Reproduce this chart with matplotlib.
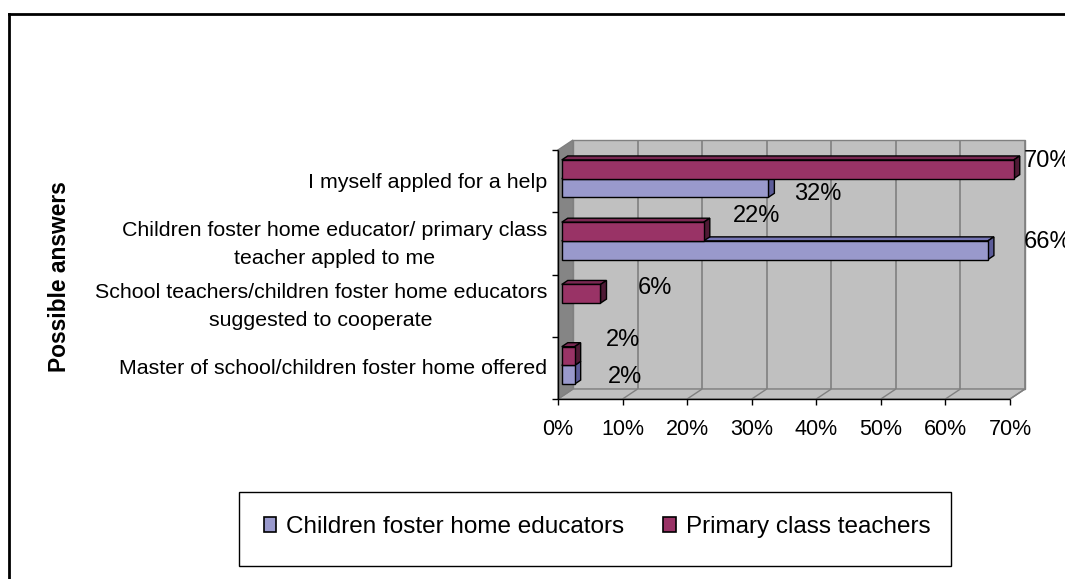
import matplotlib
matplotlib.use("Agg")
import matplotlib.pyplot as plt
from matplotlib.patches import Polygon, Rectangle, Patch
from matplotlib.lines import Line2D

plt.rcParams['font.family'] = ['Liberation Sans', 'DejaVu Sans']

# ---- data -------------------------------------------------------------
categories = [
    "I myself appled for a help",
    "Children foster home educator/ primary class\nteacher appled to me",
    "School teachers/children foster home educators\nsuggested to cooperate",
    "Master of school/children foster home offered",
]
educators = [32, 66, 0, 2]      # Children foster home educators, %
teachers = [70, 22, 6, 2]       # Primary class teachers, %
series_names = ["Children foster home educators", "Primary class teachers"]
x_ticks = [0, 10, 20, 30, 40, 50, 60, 70]
x_tick_labels = [f"{t}%" for t in x_ticks]
axis_title = "Possible answers"

# label nudges (pixels from the bar end) as placed in the original layout
teacher_label_offsets = [(10, 8), (29, 16), (37, 6), (31, 16)]
educator_label_offsets = [(26, -6), (36, 8), (0, 0), (33, -2)]

# ---- style ------------------------------------------------------------
W, H, DPI = 1065, 579, 100
FS_CAT = 15.4
FS_TICK = 15.5
FS_VAL = 17
FS_LEG = 17.5
FS_TITLE = 16.4
WALL = "#C0C0C0"
WALL_DARK = "#858585"
GRID = "#808080"
BLUE = ("#9999CC", "#7575B5", "#5C5C99")      # front, top, side
MAROON = ("#993366", "#7A2852", "#4F1A35")

fig = plt.figure(figsize=(W / DPI, H / DPI), dpi=DPI)
fig.patch.set_facecolor("white")

XMAX, NCAT = x_ticks[-1], len(categories)
ax = fig.add_axes([558 / W, 1 - 399 / H, 452 / W, 249 / H])
ax.set_xlim(0, XMAX)
ax.set_ylim(0, NCAT)
ax.axis("off")

# depth vector of the 3-D box expressed in data units
px_x = ax.bbox.width / XMAX
px_y = ax.bbox.height / NCAT
DX, DY = 15 / px_x, 10 / px_y


def at(x, y, d):
    return (x + d * DX, y + d * DY)


def poly(pts, fc, ec, lw=1.0, z=1):
    ax.add_patch(Polygon(pts, closed=True, fc=fc, ec=ec, lw=lw,
                         zorder=z, clip_on=False))


def seg(p, q, color, lw=1.0, z=1.5):
    ax.add_line(Line2D([p[0], q[0]], [p[1], q[1]], color=color, lw=lw,
                       zorder=z, clip_on=False, solid_capstyle="butt"))


# walls and floor
poly([at(0, 0, 1), at(XMAX, 0, 1), at(XMAX, NCAT, 1), at(0, NCAT, 1)], WALL, GRID)
poly([at(0, 0, 0), at(XMAX, 0, 0), at(XMAX, 0, 1), at(0, 0, 1)], WALL, GRID)
poly([at(0, 0, 0), at(0, 0, 1), at(0, NCAT, 1), at(0, NCAT, 0)], WALL_DARK, GRID)
for t in x_ticks[1:]:
    seg(at(t, 0, 1), at(t, NCAT, 1), GRID, 1.2)
    seg(at(t, 0, 0), at(t, 0, 1), GRID, 1.0)

# axis lines and tick marks
seg(at(0, 0, 0), at(0, NCAT, 0), "black", 1.0, 2)
seg(at(0, 0, 0), at(XMAX, 0, 0), "black", 1.0, 2)
for k in range(NCAT + 1):
    seg((0, k), (-6 / px_x, k), "black", 1.0, 2)
for t, lab in zip(x_ticks, x_tick_labels):
    seg((t, 0), (t, -6 / px_y), "black", 1.0, 2)
    ax.annotate(lab, xy=(t, 0), xytext=(0, -36), textcoords="offset pixels",
                ha="center", va="baseline", fontsize=FS_TICK,
                annotation_clip=False)

# category labels
centers = [NCAT - 0.5 - i for i in range(NCAT)]
for yc, lab in zip(centers, categories):
    ax.annotate(lab, xy=(0, yc), xytext=(-11, -1), textcoords="offset pixels",
                ha="right", va="center", multialignment="center",
                linespacing=1.62, fontsize=FS_CAT, annotation_clip=False)

# 3-D bars
BH, D0, D1 = 0.3, 0.25, 0.65


def bar3d(v, y0, colors, z):
    y1 = y0 + BH
    front, top, side = colors
    poly([at(0, y1, D0), at(v, y1, D0), at(v, y1, D1), at(0, y1, D1)], top, "black", 1.0, z)
    poly([at(v, y0, D0), at(v, y0, D1), at(v, y1, D1), at(v, y1, D0)], side, "black", 1.0, z)
    ax.barh(y0 + BH / 2 + D0 * DY, v, height=BH, left=D0 * DX, color=front,
            edgecolor="black", linewidth=1.0, zorder=z + 0.1, clip_on=False)


for yc, e, t, eo, to in zip(centers, educators, teachers,
                            educator_label_offsets, teacher_label_offsets):
    if e > 0:
        bar3d(e, yc - BH, BLUE, 3)
        ax.annotate(f"{e}%", xy=at(e, yc - BH / 2, D0), xytext=eo,
                    textcoords="offset pixels", ha="left", va="center",
                    fontsize=FS_VAL, annotation_clip=False, zorder=6)
    if t > 0:
        bar3d(t, yc, MAROON, 4)
        ax.annotate(f"{t}%", xy=at(t, yc + BH / 2, D0), xytext=to,
                    textcoords="offset pixels", ha="left", va="center",
                    fontsize=FS_VAL, annotation_clip=False, zorder=6)

# axis title
fig.text(60 / W, 1 - 277 / H, axis_title, rotation=90, ha="center",
         va="center", fontsize=FS_TITLE, fontweight="bold")

# legend
handles = [Patch(facecolor=BLUE[0], edgecolor="black", lw=1.2),
           Patch(facecolor=MAROON[0], edgecolor="black", lw=1.2)]
fig.legend(handles, series_names, loc="center", ncol=2,
           bbox_to_anchor=(597 / W, 1 - 527 / H), frameon=False,
           fontsize=FS_LEG, handlelength=0.53, handleheight=0.53,
           handletextpad=0.4, columnspacing=1.6)
fig.add_artist(Rectangle((239 / W, 1 - 566 / H), 712 / W, 74 / H,
                         transform=fig.transFigure, fill=False,
                         ec="black", lw=1.0))

# chart-area border
fig.add_artist(Line2D([9 / W, 1.0], [1 - 14 / H, 1 - 14 / H],
                      transform=fig.transFigure, color="black", lw=2))
fig.add_artist(Line2D([9 / W, 9 / W], [0.0, 1 - 14 / H],
                      transform=fig.transFigure, color="black", lw=2))

fig.savefig("out.png", dpi=DPI, facecolor="white")
